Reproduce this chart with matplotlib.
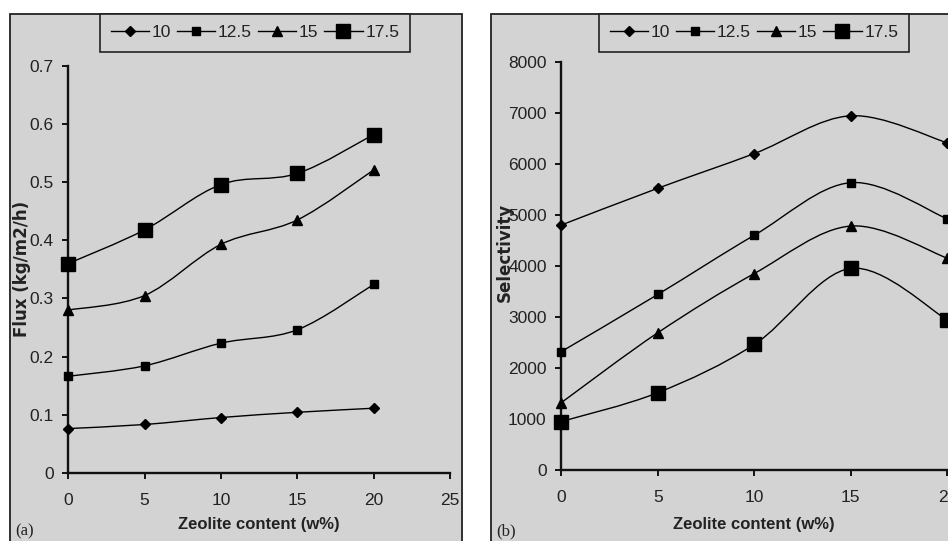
import matplotlib.pyplot as plt
from matplotlib.patches import Rectangle
from matplotlib.path import Path
from matplotlib.patches import PathPatch
from matplotlib.lines import Line2D
import numpy as np

# zeolite loading (w%)
zeolite = [0, 5, 10, 15, 20]
series_labels = ['10', '12.5', '15', '17.5']

# flux (kg/m2/h)
flux_10 = [0.076, 0.083, 0.095, 0.104, 0.111]
flux_125 = [0.166, 0.184, 0.223, 0.246, 0.324]
flux_15 = [0.280, 0.305, 0.393, 0.435, 0.521]
flux_175 = [0.360, 0.418, 0.496, 0.515, 0.582]

# selectivity
sel_10 = [4800, 5520, 6200, 6940, 6410]
sel_125 = [2320, 3440, 4600, 5630, 4920]
sel_15 = [1320, 2690, 3850, 4780, 4150]
sel_175 = [950, 1515, 2460, 3950, 2940]

BG = '#d3d3d3'
SANS = ['Liberation Sans', 'DejaVu Sans']
markers = [('D', 5.0), ('s', 5.5), ('^', 6.5), ('s', 10.5)]


def smooth_path(x, y):
    # Catmull-Rom style cubic Bezier through the points (spreadsheet "smoothed line")
    pts = np.column_stack([x, y]).astype(float)
    ext = np.vstack([pts[0], pts, pts[-1]])
    verts = [pts[0]]
    codes = [Path.MOVETO]
    for i in range(len(pts) - 1):
        p0, p1, p2, p3 = ext[i], ext[i + 1], ext[i + 2], ext[i + 3]
        verts += [p1 + (p2 - p0) / 6, p2 - (p3 - p1) / 6, p2]
        codes += [Path.CURVE4] * 3
    return Path(verts, codes)


fig = plt.figure(figsize=(9.48, 5.41), dpi=100)

# panel frames
for x0, w in [(0.0106, 0.4765), (0.5176, 0.50)]:
    fig.patches.append(Rectangle((x0, -0.02), w, 0.9941, transform=fig.transFigure,
                                 facecolor=BG, edgecolor='#222222', linewidth=1.3, zorder=-5))


def setup(ax, xlim, ylim, yticks, ylabels):
    ax.set_facecolor('none')
    ax.set_zorder(2)
    ax.set_xlim(*xlim)
    ax.set_ylim(*ylim)
    for s in ['top', 'right']:
        ax.spines[s].set_visible(False)
    for s in ['left', 'bottom']:
        ax.spines[s].set_linewidth(1.7)
        ax.spines[s].set_color('#111111')
    ax.set_yticks(yticks)
    ax.set_yticklabels(ylabels)
    ax.tick_params(direction='out', length=4.5, width=1.4, color='#111111',
                   labelsize=12.5, labelcolor='#222222')
    ax.tick_params(axis='x', pad=10)
    ax.tick_params(axis='y', pad=6)
    for lab in ax.get_xticklabels() + ax.get_yticklabels():
        lab.set_family(SANS)


def draw(ax, ys):
    handles = []
    for y, (m, ms), lab in zip(ys, markers, series_labels):
        ax.add_patch(PathPatch(smooth_path(zeolite, y), facecolor='none',
                               edgecolor='black', linewidth=1.0, zorder=2))
        ax.plot(zeolite, y, linestyle='none', marker=m, markersize=ms,
                color='black', zorder=3, clip_on=False)
        handles.append(Line2D([], [], color='black', linewidth=1.0, marker=m,
                              markersize=ms, label=lab))
    return handles


# (a) flux
ax1 = fig.add_axes([0.0720, 0.1262, 0.4026, 0.7518])
setup(ax1, (0, 25), (0, 0.7), np.arange(0, 0.71, 0.1),
      ['0', '0.1', '0.2', '0.3', '0.4', '0.5', '0.6', '0.7'])
ax1.set_xticks([0, 5, 10, 15, 20, 25])
h1 = draw(ax1, [flux_10, flux_125, flux_15, flux_175])

# (b) selectivity
ax2 = fig.add_axes([0.5921, 0.1312, 0.4072, 0.7548])
setup(ax2, (0, 20), (0, 8000), np.arange(0, 8001, 1000),
      [str(v) for v in range(0, 8001, 1000)])
ax2.set_xticks([0, 5, 10, 15, 20])
h2 = draw(ax2, [sel_10, sel_125, sel_15, sel_175])

for h, cx in [(h1, 255 / 948), (h2, 754 / 948)]:
    leg = fig.legend(handles=h, ncol=4, loc='upper center', bbox_to_anchor=(cx, 1 - 14 / 541),
                     borderaxespad=0, frameon=True, fancybox=False, edgecolor='#222222',
                     facecolor=BG, framealpha=1, handlelength=2.2, handletextpad=0.15,
                     columnspacing=0.35, borderpad=0.65, prop={'family': SANS, 'size': 12.5})
    leg.get_frame().set_linewidth(1.2)
    for t in leg.get_texts():
        t.set_color('#222222')

fig.text(259 / 948, 1 - 524 / 541, 'Zeolite content (w%)', ha='center', va='center',
         fontsize=12, family=SANS, weight='bold', color='#222222')
fig.text(754 / 948, 1 - 524 / 541, 'Zeolite content (w%)', ha='center', va='center',
         fontsize=12, family=SANS, weight='bold', color='#222222')
fig.text(22 / 948, 1 - 269 / 541, 'Flux (kg/m2/h)', rotation=90, ha='center', va='center',
         fontsize=12, family='DejaVu Sans', weight='bold', color='#222222')
fig.text(505 / 948, 1 - 252 / 541, 'Selectivity', rotation=90, ha='center', va='center',
         fontsize=12, family='DejaVu Sans', weight='bold', color='#222222')

fig.text(15 / 948, 1 - 531 / 541, '(a)', ha='left', va='center', fontsize=12,
         family='Liberation Serif', color='#222222')
fig.text(496 / 948, 1 - 531 / 541, '(b)', ha='left', va='center', fontsize=12,
         family='Liberation Serif', color='#222222')

fig.savefig('out.png', dpi=100, facecolor='white')
